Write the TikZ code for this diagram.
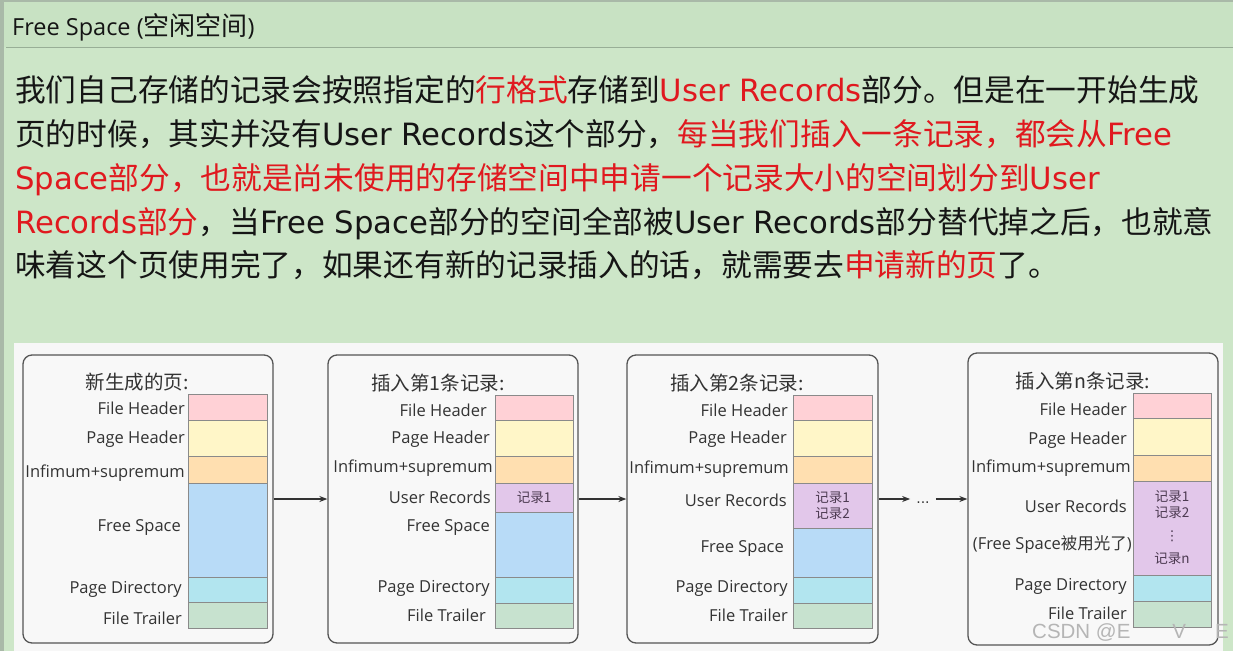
\documentclass[tikz,border=0pt]{standalone}
\usepackage{fontspec}
\setmainfont{DejaVu Sans}
\newfontfamily\zhfont{Noto Sans CJK SC}
\newfontfamily\osfont{Open Sans}
\newfontfamily\wmfont{Liberation Sans}
\usetikzlibrary{arrows.meta}
\newcommand\zh[1]{{\zhfont #1}}
\definecolor{bggreen}{HTML}{CDE6C8}
\definecolor{titlebar}{HTML}{C8E2C3}
\definecolor{barline}{HTML}{98AE96}
\definecolor{leftbar}{HTML}{A9B9A8}
\definecolor{panel}{HTML}{F7F7F7}
\definecolor{boxfill}{HTML}{F8F8F8}
\definecolor{boxline}{HTML}{555555}
\definecolor{redtxt}{HTML}{E0191F}
\definecolor{txtblack}{HTML}{151515}
\definecolor{labtext}{HTML}{333333}
\definecolor{segline}{HTML}{8A8A8A}
\definecolor{rectext}{HTML}{4D3B52}
\definecolor{arrowc}{HTML}{333333}
\definecolor{pinkc}{HTML}{FFD1D6}
\definecolor{yellowc}{HTML}{FFF6C8}
\definecolor{orangec}{HTML}{FFDFB0}
\definecolor{bluec}{HTML}{B8DBF7}
\definecolor{cyanc}{HTML}{B2E5EF}
\definecolor{greenc}{HTML}{C7E2CF}
\definecolor{purplec}{HTML}{E2C7EA}
\definecolor{wmgray}{HTML}{B5B5B5}
\newcommand\rd[1]{\textcolor{redtxt}{#1}}
\newcommand\seg[7]{\node[seg,fill=#6,minimum width={#3pt-#2pt},minimum height={#5pt-#4pt}] (#1) at ({(#2+#3)/2},{(#4+#5)/2}) {#7};}
\begin{document}
\begin{tikzpicture}[x=1pt,y=-1pt,
  seg/.style={draw=segline, line width=0.6pt, inner sep=0pt, outer sep=0pt,
    font=\zhfont\fontsize{13.5}{16}\selectfont, text=rectext, align=center},
  pagebox/.style={draw=boxline, line width=1.3pt, rounded corners=9pt, fill=boxfill, inner sep=0pt},
  lab/.style={font=\osfont\fontsize{16.5}{18}\selectfont, text=labtext, anchor=east, inner sep=0pt},
  btitle/.style={font=\zhfont\fontsize{19.5}{22}\selectfont, text=labtext, inner sep=0pt},
  para/.style={anchor=base west, inner sep=0pt, font=\fontsize{30.7}{36}\selectfont, text=txtblack},
  arr/.style={-{Stealth[length=8pt,width=6pt]}, line width=1.3pt, draw=arrowc}]
\useasboundingbox (0,0) rectangle (1233,651);
\fill[bggreen] (0,0) rectangle (1233,651);
\fill[titlebar] (0,0) rectangle (1233,47);
\draw[barline, line width=1.2pt] (6,47.5) -- (1233,47.5);
\fill[leftbar] (0,0) rectangle (4,651);
\fill[leftbar] (0,0) rectangle (1233,2);
\node[anchor=west, inner sep=0pt, text=txtblack, font=\osfont\fontsize{23.5}{26}\selectfont] (title) at (12,27) {Free Space (\zh{\fontsize{26}{28}\selectfont 空闲空间})};

% paragraph
\node[para] (p1) at (15,101.7) {\zh{我们自己存储的记录会按照指定的}\rd{\zh{行格式}}\zh{存储到}\rd{User Records}\zh{部分。但是在一开始生成}};
\node[para] (p2) at (15,145.7) {\zh{页的时候，其实并没有}User Records\zh{这个部分，}\rd{\zh{每当我们插入一条记录，都会从}Free}};
\node[para] (p3) at (15,189.7) {\rd{Space\zh{部分，也就是尚未使用的存储空间中申请一个记录大小的空间划分到}User}};
\node[para] (p4) at (15,233.7) {\rd{Records\zh{部分}}\zh{，当}Free Space\zh{部分的空间全部被}User Records\zh{部分替代掉之后，也就意}};
\node[para] (p5) at (15,276.7) {\zh{味着这个页使用完了，如果还有新的记录插入的话，就需要去}\rd{\zh{申请新的页}}\zh{了。}};

% diagram panel
\fill[panel] (14,343) rectangle (1223,651);

% page boxes
\node[pagebox, minimum width=250pt, minimum height=288pt] (b1) at (148,499) {};
\node[pagebox, minimum width=250pt, minimum height=288pt] (b2) at (453,499) {};
\node[pagebox, minimum width=251pt, minimum height=288pt] (b3) at (752.5,499) {};
\node[pagebox, minimum width=250pt, minimum height=292pt] (b4) at (1093,499) {};

% titles
\node[btitle] (t1) at (137,382) {新生成的页:};
\node[btitle] (t2) at (438,383) {插入第1条记录:};
\node[btitle] (t3) at (737,383) {插入第2条记录:};
\node[btitle] (t4) at (1083,381) {插入第n条记录:};

% box 1 column
\seg{a1}{188}{267}{394}{420}{pinkc}{}
\seg{a2}{188}{267}{420}{456}{yellowc}{}
\seg{a3}{188}{267}{456}{483}{orangec}{}
\seg{a4}{188}{267}{483}{577}{bluec}{}
\seg{a5}{188}{267}{577}{602}{cyanc}{}
\seg{a6}{188}{267}{602}{628}{greenc}{}
\node[lab] (la1) at (185,408) {File Header};
\node[lab] (la2) at (185,439) {Page Header};
\node[lab] (la3) at (185,473) {Infimum+supremum};
\node[lab] (la4) at (181,527) {Free Space};
\node[lab] (la5) at (182,589) {Page Directory};
\node[lab] (la6) at (182,618) {File Trailer};

% box 2 column
\seg{c1}{495}{573}{395}{420}{pinkc}{}
\seg{c2}{495}{573}{420}{456}{yellowc}{}
\seg{c3}{495}{573}{456}{483}{orangec}{}
\seg{c4}{495}{573}{483}{512}{purplec}{记录1}
\seg{c5}{495}{573}{512}{577}{bluec}{}
\seg{c6}{495}{573}{577}{603}{cyanc}{}
\seg{c7}{495}{573}{603}{628}{greenc}{}
\node[lab] (lc1) at (487,410) {File Header};
\node[lab] (lc2) at (490,439) {Page Header};
\node[lab] (lc3) at (493,468) {Infimum+supremum};
\node[lab] (lc4) at (491,497) {User Records};
\node[lab] (lc5) at (490,527) {Free Space};
\node[lab] (lc6) at (490,588) {Page Directory};
\node[lab] (lc7) at (486,615) {File Trailer};

% box 3 column
\seg{d1}{793}{872}{395}{420}{pinkc}{}
\seg{d2}{793}{872}{420}{456}{yellowc}{}
\seg{d3}{793}{872}{456}{483}{orangec}{}
\seg{d4}{793}{872}{483}{528}{purplec}{记录1\\记录2}
\seg{d5}{793}{872}{528}{577}{bluec}{}
\seg{d6}{793}{872}{577}{603}{cyanc}{}
\seg{d7}{793}{872}{603}{628}{greenc}{}
\node[lab] (ld1) at (788,410) {File Header};
\node[lab] (ld2) at (787,439) {Page Header};
\node[lab] (ld3) at (789,469) {Infimum+supremum};
\node[lab] (ld4) at (787,500) {User Records};
\node[lab] (ld5) at (784,548) {Free Space};
\node[lab] (ld6) at (788,588) {Page Directory};
\node[lab] (ld7) at (788,615) {File Trailer};

% box 4 column
\seg{e1}{1133}{1211}{393}{418}{pinkc}{}
\seg{e2}{1133}{1211}{418}{455}{yellowc}{}
\seg{e3}{1133}{1211}{455}{481}{orangec}{}
\seg{e4}{1133}{1211}{481}{575}{purplec}{记录1\\记录2\\[7pt]{\normalfont ⋮}\\[7pt]记录n}
\seg{e5}{1133}{1211}{575}{601}{cyanc}{}
\seg{e6}{1133}{1211}{601}{627}{greenc}{}
\node[lab] (le1) at (1127,409) {File Header};
\node[lab] (le2) at (1127,440) {Page Header};
\node[lab] (le3) at (1131,468) {Infimum+supremum};
\node[lab] (le4) at (1127,506) {User Records};
\node[lab] (le5) at (1132,545) {(Free Space\zh{被用光了})};
\node[lab] (le6) at (1127,586) {Page Directory};
\node[lab] (le7) at (1127,613) {File Trailer};

% arrows
\node[inner xsep=6pt, inner ysep=0pt, text height=10pt, text depth=2pt, font=\fontsize{14}{16}\selectfont, text=labtext] (dots) at (923,499) {...};
\draw[arr] (b1.east) -- (b2.west);
\draw[arr] (b2.east) -- (b3.west);
\draw[arr] (b3.east) -- (dots.west);
\draw[arr] (dots.east) -- (b4.west);

% watermark
\node[anchor=west, inner sep=0pt, text=wmgray, font=\wmfont\fontsize{20.5}{24}\selectfont] (wm) at (1032,632) {CSDN @E\hspace{42pt}V\hspace{29pt}E};
\end{tikzpicture}
\end{document}
